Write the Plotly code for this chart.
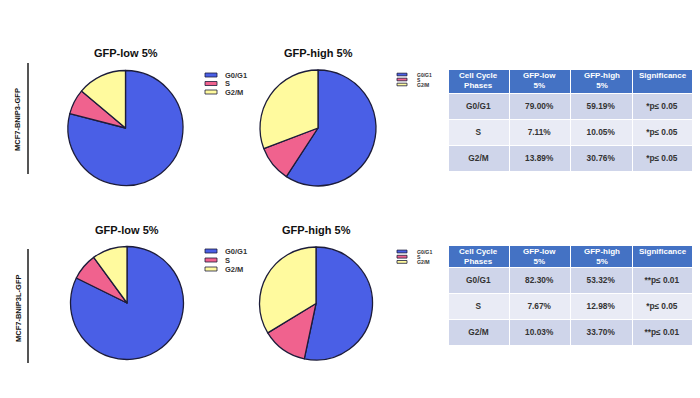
import plotly.graph_objects as go

# ---------------- data ----------------
phases = ["G0/G1", "S", "G2/M"]
bnip3_low = [79.00, 7.11, 13.89]
bnip3_high = [59.19, 10.05, 30.76]
bnip3l_low = [82.30, 7.67, 10.03]
bnip3l_high = [53.32, 12.98, 33.70]

bnip3_sig = ["*p≤ 0.05", "*p≤ 0.05", "*p≤ 0.05"]
bnip3l_sig = ["**p≤ 0.01", "*p≤ 0.05", "**p≤ 0.01"]

pie_titles = ["GFP-low 5%", "GFP-high 5%"]
row_labels = ["MCF7-BNIP3-GFP", "MCF7-BNIP3L-GFP"]
table_header = ["Cell Cycle<br>Phases", "GFP-low<br>5%", "GFP-high<br>5%", "Significance"]

colors = ["#4A5FE6", "#F0628E", "#FFFA9E"]
outline = "#1c1c3a"

W, H = 700, 398
FONT = "Liberation Sans, Arial"


def px(x):
    return x / W


def py(y):
    return 1 - y / H


fig = go.Figure()

# ---------------- pies ----------------
pies = [
    (bnip3_low, 125.5, 128, 57.5),
    (bnip3_high, 318, 128, 58),
    (bnip3l_low, 127, 303, 56.5),
    (bnip3l_high, 316, 303.5, 56.5),
]
for vals, cx, cy, r in pies:
    fig.add_trace(go.Pie(
        labels=phases, values=vals, sort=False, direction="clockwise",
        rotation=0, textinfo="none", hoverinfo="label+percent",
        marker=dict(colors=colors, line=dict(color=outline, width=1.3)),
        domain=dict(x=[px(cx - r), px(cx + r)], y=[py(cy + r), py(cy - r)]),
        showlegend=False,
    ))

# ---------------- tables ----------------
def fmt(v):
    return f"{v:.2f}%"


annotations = []
shapes = []

col_w = [61, 61, 62, 60]
tx0, tx1 = 448, 693
tables = [
    (bnip3_low, bnip3_high, bnip3_sig, 69, 24),
    (bnip3l_low, bnip3l_high, bnip3l_sig, 245, 22),
]
fill_rows = ["#CFD5EA", "#E9EBF5", "#CFD5EA"]
for low, high, sig, top, hh in tables:
    bot = top + hh + 3 * 26 + 6
    fig.add_trace(go.Table(
        domain=dict(x=[px(tx0), px(tx1)], y=[py(bot), py(top)]),
        columnwidth=col_w,
        header=dict(
            values=["" for _ in table_header],
            fill_color="#4472C4", line=dict(color="white", width=1),
            font=dict(color="white", size=8, family=FONT),
            align="center", height=hh,
        ),
        cells=dict(
            values=[
                [f"<b>{p}</b>" for p in phases],
                [f"<b>{fmt(v)}</b>" for v in low],
                [f"<b>{fmt(v)}</b>" for v in high],
                [f"<b>{s}</b>" for s in sig],
            ],
            fill_color=[fill_rows] * 4, line=dict(color="white", width=1),
            font=dict(color="#333333", size=8.3, family=FONT),
            align="center", height=26,
        ),
    ))
    # header texts (centered line by line)
    scale = (tx1 - tx0) / sum(col_w)
    xc = tx0
    for h, w in zip(table_header, col_w):
        cx = xc + w * scale / 2
        xc += w * scale
        two = "<br>" in h
        annotations.append(dict(
            x=px(cx), y=py(top + (hh / 2 if two else 6.5)), xref="paper", yref="paper",
            showarrow=False, text=f"<b>{h}</b>", xanchor="center", yanchor="middle",
            align="center", font=dict(size=8, color="white", family=FONT),
        ))

# ---------------- titles ----------------
title_pos = [(125.5, 53), (318, 53), (127, 230), (316, 230)]
for i, (x, y) in enumerate(title_pos):
    annotations.append(dict(
        x=px(x), y=py(y), xref="paper", yref="paper", showarrow=False,
        text=f"<b>{pie_titles[i % 2]}</b>", xanchor="center", yanchor="middle",
        font=dict(size=11, color="#111111", family=FONT),
    ))

# ---------------- row labels & bars ----------------
for lab, cy, y0, y1 in [(row_labels[0], 120, 63, 174), (row_labels[1], 308, 249, 363)]:
    annotations.append(dict(
        x=px(18), y=py(cy), xref="paper", yref="paper", showarrow=False,
        text=f"<b>{lab}</b>", textangle=-90, xanchor="center", yanchor="middle",
        font=dict(size=7.5, color="#111111", family=FONT),
    ))
    shapes.append(dict(type="line", xref="paper", yref="paper",
                       x0=px(28), x1=px(28), y0=py(y0), y1=py(y1),
                       line=dict(color="#555555", width=2)))

# ---------------- legends ----------------
legends = [
    # x swatch, y first, spacing, swatch width, swatch height, text x, font size
    (205, 75, 8.5, 12, 4, 223, 7.5),
    (205, 251, 9, 12, 4, 223, 7.5),
    (397, 74.5, 5, 10, 2.6, 415, 5),
    (397, 251.5, 5.2, 10, 2.8, 415, 5.2),
]
for sx, sy, dy, sw, sh, tx, fs in legends:
    for k, ph in enumerate(phases):
        y = sy + k * dy
        shapes.append(dict(type="rect", xref="paper", yref="paper",
                           x0=px(sx), x1=px(sx + sw), y0=py(y + sh / 2), y1=py(y - sh / 2),
                           fillcolor=colors[k], line=dict(color=outline, width=0.8)))
        annotations.append(dict(
            x=px(tx), y=py(y), xref="paper", yref="paper", showarrow=False,
            text=f"<b>{ph}</b>", xanchor="left", yanchor="middle",
            font=dict(size=fs, color="#333333", family=FONT),
        ))

fig.update_layout(
    width=W, height=H,
    margin=dict(l=0, r=0, t=0, b=0),
    paper_bgcolor="white", plot_bgcolor="white",
    annotations=annotations, shapes=shapes,
    showlegend=False,
)

fig.write_html("out.html", config={"displayModeBar": False},
               post_script="document.body.style.margin='0';")
